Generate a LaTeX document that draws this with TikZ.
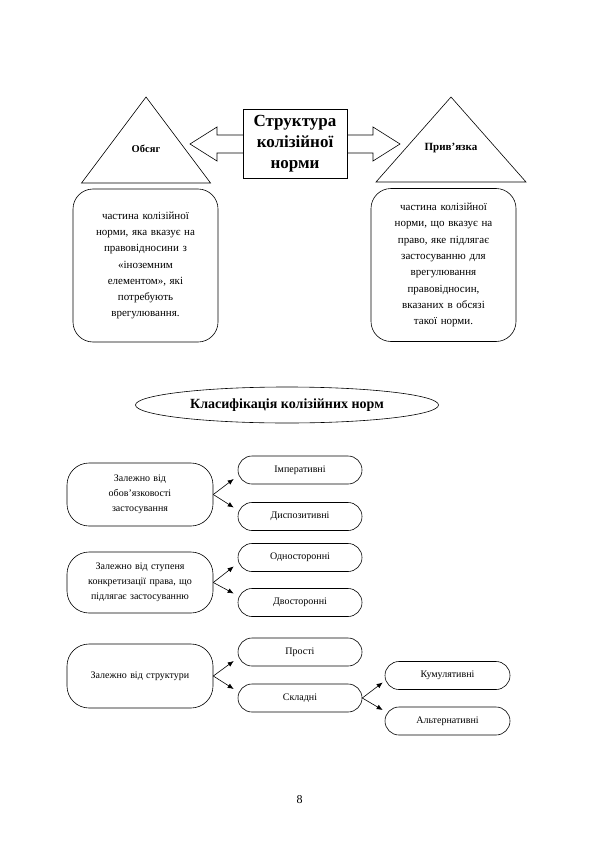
\documentclass[tikz,border=0pt]{standalone}
\usepackage{fontspec}
\setmainfont{Liberation Serif}
\usetikzlibrary{shapes.geometric,shapes.misc,arrows.meta}

\begin{document}
\begin{tikzpicture}[x=1pt, y=-1pt, line width=0.6pt, >={Latex[length=6pt,width=5pt]},
    opys/.style={draw, rounded corners=20pt, text width=135pt, minimum width=145pt, minimum height=153pt, inner sep=0pt, align=center, font=\fontsize{11}{16.3}\selectfont},
    grupa/.style={draw, rounded corners=22pt, text width=138pt, minimum width=146pt, inner sep=0pt, align=center, font=\fontsize{10}{15}\selectfont},
    vyd/.style={draw, rounded rectangle, minimum width=124pt, minimum height=28pt, inner sep=0pt, font=\fontsize{10}{12}\selectfont}]
    \useasboundingbox (0,0) rectangle (600,848);

    % Структура колізійної норми
    \begin{scope}
        \draw (146,97) -- (210.5,183) -- (81.5,183) -- cycle;
        \node[font=\bfseries\fontsize{10.5}{13}\selectfont] (obsyag) at (146,149) {Обсяг};
        \draw (451,97) -- (526,182) -- (376,182) -- cycle;
        \node[font=\bfseries\fontsize{11}{13}\selectfont] (pryvjazka) at (451,148) {Прив’язка};

        \draw (190,144) -- (217,127) -- (217,135) -- (373,135) -- (373,127) -- (400,144)
            -- (373,161) -- (373,153) -- (217,153) -- (217,161) -- cycle;
        \node[draw, fill=white, minimum width=104pt, minimum height=69pt, inner sep=0pt, align=center,
            font=\bfseries\fontsize{17}{21}\selectfont] (struktura) at (295,143.5) {Структура\\ колізійної\\ норми};

        \node[opys] (opysobs) at (145.5,265.5) {частина колізійної\\ норми, яка вказує на\\ правовідносини з\\ «іноземним\\ елементом», які\\ потребують\\ врегулювання.\\[4pt]};
        \node[opys] (opysprv) at (443.5,265) {частина колізійної\\ норми, що вказує на\\ право, яке підлягає\\ застосуванню для\\ врегулювання\\ правовідносин,\\ вказаних в обсязі\\ такої норми.};
    \end{scope}

    % Класифікація
    \node[draw, ellipse, minimum width=303pt, minimum height=36pt, inner sep=0pt,
        font=\bfseries\fontsize{14}{16}\selectfont] (klas) at (287,405) {Класифікація колізійних норм};

    \begin{scope}
        \node[grupa, minimum height=63pt] (obovjaz) at (140,494.5) {Залежно від\\ обов’язковості\\ застосування};
        \node[vyd] (imper) at (300,470) {Імперативні};
        \node[vyd] (dyspoz) at (300,516.5) {Диспозитивні};
        \draw[->] (obovjaz.east) -- ([xshift=-4pt,yshift=-9pt]imper.west);
        \draw[->] (obovjaz.east) -- ([xshift=-4pt,yshift=9pt]dyspoz.west);

        \node[grupa, minimum height=61pt] (stupin) at (140,582.5) {Залежно від ступеня\\ конкретизації права, що\\ підлягає застосуванню};
        \node[vyd] (odnost) at (300,557.5) {Односторонні};
        \node[vyd] (dvost) at (300,602.5) {Двосторонні};
        \draw[->] (stupin.east) -- ([xshift=-4pt,yshift=-9pt]odnost.west);
        \draw[->] (stupin.east) -- ([xshift=-4pt,yshift=9pt]dvost.west);

        \node[grupa, minimum height=64pt] (strukt) at (140,676) {Залежно від структури};
        \node[vyd] (prosti) at (300,652) {Прості};
        \node[vyd] (skladni) at (300,698) {Складні};
        \draw[->] (strukt.east) -- ([xshift=-4pt,yshift=-9pt]prosti.west);
        \draw[->] (strukt.east) -- ([xshift=-4pt,yshift=9pt]skladni.west);

        \node[vyd, minimum width=125pt] (kumul) at (447.5,675.5) {Кумулятивні};
        \node[vyd, minimum width=125pt] (altern) at (447.5,721) {Альтернативні};
        \draw[->] (skladni.east) -- ([xshift=-2pt,yshift=-7pt]kumul.west);
        \draw[->] (skladni.east) -- ([xshift=-2pt,yshift=11pt]altern.west);
    \end{scope}

    \node[font=\fontsize{12}{14}\selectfont] (storinka) at (299.5,800) {8};
\end{tikzpicture}
\end{document}
